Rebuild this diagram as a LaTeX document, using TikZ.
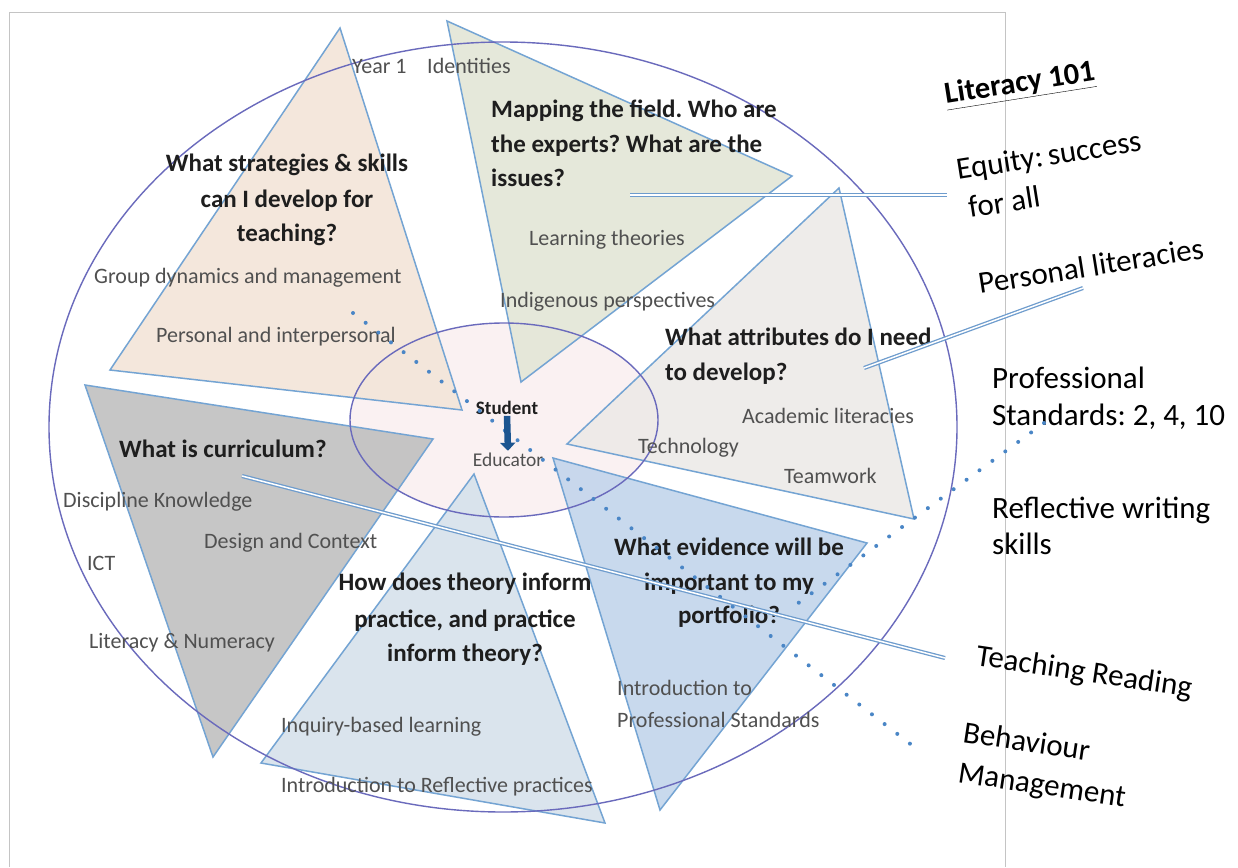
\documentclass[tikz,border=0pt]{standalone}
\usepackage{fontspec}
\setmainfont{Carlito}
\usetikzlibrary{arrows.meta}
\frenchspacing
\definecolor{framec}{HTML}{C4C4C4}
\definecolor{ellc}{HTML}{6A6ABC}
\definecolor{tric}{HTML}{74A4D3}
\definecolor{peach}{HTML}{F3E5D9}
\definecolor{sage}{HTML}{E3E6D7}
\definecolor{stone}{HTML}{EDEAE8}
\definecolor{slate}{HTML}{C0C0C0}
\definecolor{mist}{HTML}{D6E2EC}
\definecolor{sky}{HTML}{C3D5EC}
\definecolor{pinkc}{HTML}{FAF1F2}
\definecolor{dotc}{HTML}{4A86C6}
\definecolor{dblc}{HTML}{6E9CCD}
\definecolor{greytext}{HTML}{505050}
\definecolor{boldtext}{HTML}{1E1E1E}
\definecolor{arrc}{HTML}{1C5590}
\tikzset{
  tri/.style={draw=tric, line width=1.5pt, line join=miter, fill opacity=0.9},
  grey/.style={font=\fontsize{22}{26}\selectfont, text=greytext, inner sep=0pt},
  quest/.style={font=\fontsize{25}{30}\selectfont\bfseries, text=boldtext, inner sep=0pt},
  side/.style={font=\fontsize{31}{37}\selectfont, text=black, inner sep=0pt},
  dotline/.style={dotc, line width=4pt, line cap=round, dash pattern=on 0pt off 16pt},
  dblline/.style={draw=dblc, line width=1.3pt, double=white, double distance=1.5pt},
}
\begin{document}
\begin{tikzpicture}[x=1pt,y=-1pt]
\useasboundingbox (0,0) rectangle (1238,867);
\fill[white] (0,0) rectangle (1238,867);
% frame
\draw[framec, line width=1pt] (9,867) -- (9,13) -- (1005,13) -- (1005,867);
% inner ellipse fill
\fill[pinkc] (504,420) ellipse [x radius=154, y radius=97];
% triangles
\filldraw[tri, fill=peach] (340,28) -- (110,370) -- (462,410) -- cycle;
\filldraw[tri, fill=sage] (447,21) -- (792,176) -- (521,382) -- cycle;
\filldraw[tri, fill=stone] (839,188) -- (567,444) -- (914,519) -- cycle;
\filldraw[tri, fill=slate] (85,385) -- (433,439) -- (213,757) -- cycle;
\filldraw[tri, fill=mist] (474,474) -- (261,763) -- (605,823) -- cycle;
\filldraw[tri, fill=sky] (553,458) -- (867,543) -- (660,810) -- cycle;
% ellipses
\draw[ellc, line width=1.4pt] (504,420) ellipse [x radius=154, y radius=97];
\draw[ellc, line width=1.4pt] (503,427) ellipse [x radius=454, y radius=385];
% grey labels
\node[grey, anchor=base west] (y1) at (352,73) {Year 1};
\node[grey, anchor=base west] (ide) at (427,73) {Identities};
\node[grey, anchor=base west] (gdm) at (94,283) {Group dynamics and management};
\node[grey, anchor=base west] (pai) at (156,342) {Personal and interpersonal};
\node[grey, anchor=base west] (lth) at (529,245) {Learning theories};
\node[grey, anchor=base west] (ind) at (500,307) {Indigenous perspectives};
\node[grey, anchor=base west] (acl) at (742,423) {Academic literacies};
\node[grey, anchor=base west] (tec) at (638,453) {Technology};
\node[grey, anchor=base west] (tea) at (784,483) {Teamwork};
\node[grey, anchor=base west] (dis) at (63,507) {Discipline Knowledge};
\node[grey, anchor=base west] (dac) at (204,548) {Design and Context};
\node[grey, anchor=base west] (ict) at (87,570) {ICT};
\node[grey, anchor=base west] (lnu) at (89,648) {Literacy \& Numeracy};
\node[grey, anchor=base west] (ibl) at (281,732) {Inquiry-based learning};
\node[grey, anchor=base west] (irp) at (281,792) {Introduction to Reflective practices};
\node[grey, anchor=base west] (ipa) at (617,695) {Introduction to};
\node[grey, anchor=base west] (ipb) at (617,727) {Professional Standards};
% questions
\node[quest, anchor=base] (q1a) at (287,171) {What strategies \& skills};
\node[quest, anchor=base] (q1b) at (287,207) {can I develop for};
\node[quest, anchor=base] (q1c) at (287,241) {teaching?};
\node[quest, anchor=base west] (q2a) at (491,117) {Mapping the field. Who are};
\node[quest, anchor=base west] (q2b) at (491,152) {the experts? What are the};
\node[quest, anchor=base west] (q2c) at (491,186) {issues?};
\node[quest, anchor=base west] (q3a) at (665,345) {What attributes do I need};
\node[quest, anchor=base west] (q3b) at (665,380) {to develop?};
\node[quest, anchor=base west] (q4) at (119,457) {What is curriculum?};
\node[quest, anchor=base] (q5a) at (465,590) {How does theory inform};
\node[quest, anchor=base] (q5b) at (465,627) {practice, and practice};
\node[quest, anchor=base] (q5c) at (465,661) {inform theory?};
\node[quest, anchor=base] (q6a) at (729,555) {What evidence will be};
\node[quest, anchor=base] (q6b) at (729,590) {important to my};
\node[quest, anchor=base] (q6c) at (729,623) {portfolio?};
% centre
\node[quest, font=\fontsize{19}{22}\selectfont\bfseries, anchor=base, inner sep=1.5pt] (stu) at (507,414) {Student};
\node[grey, font=\fontsize{19.5}{22}\selectfont, anchor=base, inner sep=1.5pt] (edu) at (508,466) {Educator};
% right side
\node[side, font=\fontsize{30.5}{36}\selectfont\bfseries, anchor=base west, rotate=9] (lit) at (946,104) {\underline{Literacy 101}};
\node[side, anchor=base west, rotate=9] (eqa) at (958,180) {Equity:\,success};
\node[side, anchor=base west, rotate=9] (eqb) at (970,218) {for all};
\node[side, anchor=base west, rotate=9] (pli) at (980,294) {Personal literacies};
\node[side, anchor=base west] (psa) at (992,388) {Professional};
\node[side, anchor=base west] (psb) at (992,425) {Standards: 2, 4, 10};
\node[side, anchor=base west] (rwa) at (992,518) {Reflective writing};
\node[side, anchor=base west] (rwb) at (992,554) {skills};
\node[side, anchor=base west, rotate=-8.5] (trd) at (975,665) {Teaching Reading};
\node[side, anchor=base west, rotate=-8.5] (bma) at (962,742) {Behaviour};
\node[side, anchor=base west, rotate=-8.5] (bmb) at (957,782) {Management};
% connector ends
\coordinate (da1) at (353,313);
\coordinate (da2) at (922,753);
\coordinate (db1) at (1044,423);
\coordinate (db2) at (797,604);
\coordinate (ea1) at (630,195);
\coordinate (ea2) at (947,195);
\coordinate (pa1) at (864,368);
\coordinate (pa2) at (1083,288);
\coordinate (ta1) at (242,476);
\coordinate (ta2) at (945,658);
% connectors
\draw[dotline] (da1) -- (da2);
\draw[dotline] (db1) -- (db2);
\draw[dblline] (ea1) -- (ea2);
\draw[dblline] (pa1) -- (pa2);
\draw[dblline] (ta1) -- (ta2);
\draw[arrc, line width=6.5pt, -{Triangle[width=15pt,length=8pt]}] (stu.south) -- (edu.north);
\end{tikzpicture}
\end{document}
